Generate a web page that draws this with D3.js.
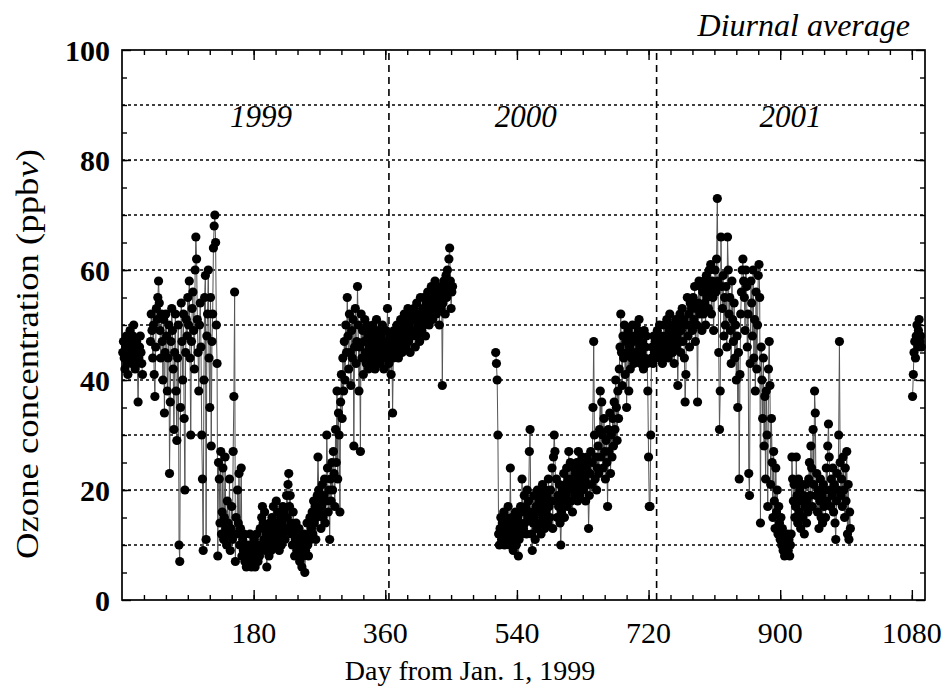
<!DOCTYPE html>
<html>
<head>
<meta charset="utf-8">
<script src="https://cdn.jsdelivr.net/npm/d3@7"></script>
<style>
  body { margin: 0; background: #fff; }
  text { font-family: "Liberation Serif", "Times New Roman", serif; fill: #000; }
</style>
</head>
<body>
<div id="chart"></div>
<script>
// daily ozone, each segment starts at its own day
let segStarts = [1, 39, 511, 1081];

let ozone_seg1 = [45,47,44,42,46,48,43,41,45,47,49,44,43,46,48,50,45,42,44,47,43,36,44,46,48,45,43,41];

let ozone_seg2 = [
  47,52,49,44,50,41,37,46,53,51,
  55,58,54,49,44,52,47,40,51,34,
  45,52,48,38,44,50,23,36,47,53,
  49,42,31,45,52,38,29,44,50,10,
  7,35,54,47,40,52,33,20,45,51,
  48,55,50,58,44,30,47,53,56,49,
  42,60,66,62,51,45,38,50,54,46,
  30,22,9,40,55,59,11,48,52,60,
  44,35,55,28,47,52,64,68,70,65,
  50,43,8,25,22,14,27,12,16,24,
  11,15,26,13,10,18,14,12,22,9,
  13,17,11,27,37,56,7,15,12,20,
  14,23,10,13,24,8,11,9,12,7,
  9,6,8,10,7,9,12,8,6,10,
  7,9,11,6,8,12,10,7,9,8,
  13,10,15,17,14,11,16,9,12,6,
  10,13,8,14,11,9,15,12,17,13,
  10,14,18,12,16,11,9,13,15,10,
  14,17,12,16,11,13,19,15,21,23,
  17,19,14,12,10,16,13,8,11,14,
  9,12,10,13,7,11,9,6,10,8,
  12,5,9,11,14,10,8,12,15,11,
  13,16,12,18,14,17,11,15,19,26,
  20,16,18,13,17,21,15,19,22,14,
  18,30,24,16,20,11,22,18,25,20,
  27,23,17,31,25,38,22,34,30,16,
  36,41,33,44,38,47,40,50,45,55,
  48,42,52,45,39,49,44,51,28,46,
  53,43,47,57,50,38,46,27,52,44,
  49,41,47,51,45,43,50,48,42,46,
  44,49,47,43,50,45,48,42,46,51,
  47,44,49,46,43,48,45,50,47,42,
  46,44,49,47,53,45,43,48,46,41,
  47,34,44,49,46,48,45,50,47,44,
  49,46,51,48,45,50,47,52,49,46,
  51,48,53,47,50,45,49,52,48,51,
  53,49,46,51,54,48,50,52,47,55,
  51,49,53,50,55,52,48,54,51,56,
  53,50,55,52,57,54,51,56,53,58,
  55,52,57,54,56,50,55,53,57,39,
  54,58,56,52,59,55,60,57,62,64,
  58,53,56,57];

let ozone_seg3 = [
  45,43,40,30,12,10,13,15,11,14,
  12,16,10,13,15,11,14,17,12,10,
  24,13,15,11,9,14,12,16,10,13,
  15,8,11,14,17,12,22,16,13,19,
  14,17,12,20,15,18,27,31,16,12,
  9,14,19,15,11,17,13,20,16,18,
  14,19,12,17,21,15,18,13,20,16,
  19,14,22,17,15,20,18,24,13,26,
  30,27,18,22,15,19,17,21,14,10,
  16,20,18,23,15,21,19,24,17,22,
  27,20,25,18,22,16,21,24,19,23,
  20,25,18,27,22,19,24,21,26,23,
  20,25,22,18,24,26,21,13,19,23,
  27,21,25,35,47,30,22,26,20,24,
  28,23,31,38,26,36,30,24,33,27,
  22,29,25,17,31,27,34,23,30,26,
  33,28,36,31,40,35,29,38,33,42,
  46,52,45,39,48,44,50,41,47,35,
  45,49,38,46,42,48,44,50,47,43,
  48,45,50,44,47,49,51,46,43,48,
  45,47,42,49,44,46,48,43,38,26,
  17,17,30,44,46,43,48,45,47,44,
  46,49,45,47,50,44,48,46,43,47,
  50,45,48,46,51,47,44,49,52,46,
  48,50,45,47,43,49,51,46,48,39,
  50,47,52,45,49,53,47,51,44,36,
  41,50,55,48,52,46,54,50,53,49,
  55,51,57,47,53,50,36,54,58,52,
  57,53,49,56,52,58,54,50,59,55,
  57,53,60,56,61,52,58,55,49,57,
  60,56,62,73,58,45,31,38,66,57,
  53,59,48,55,50,57,46,66,60,52,
  55,49,43,58,51,47,54,44,50,40,
  48,35,45,22,41,52,56,60,62,58,
  55,49,60,57,46,52,23,19,43,58,
  54,48,60,44,51,38,56,42,50,59,
  61,55,14,46,40,33,44,28,37,22,
  38,30,17,42,47,39,21,33,25,15,
  27,18,13,24,16,20,12,17,14,11,
  15,10,13,9,12,8,11,9,10,12,
  9,11,8,10,12,26,22,18,21,15,
  17,26,19,14,22,16,20,13,18,21,
  15,19,12,17,21,14,18,16,22,25,
  19,28,24,17,31,21,38,34,19,23,
  16,20,13,18,22,15,19,14,21,17,
  20,15,24,18,28,32,26,20,17,22,
  19,24,16,21,14,11,18,23,20,30,
  47,25,19,22,17,26,20,15,24,18,
  27,12,21,11,16,13];

let ozone_seg4 = [37,41,45,47,44,48,50,46,49,51,47,48,46];

let xTickValues = [180, 360, 540, 720, 900, 1080];
let yTickValues = [0, 20, 40, 60, 80, 100];
let yearNames = ["1999", "2000", "2001"];
let yearMidDays = [190, 552, 914];
let yearBreaks = [365, 731];

let width = 944, height = 688;
let margin = {top: 50, right: 19, bottom: 88, left: 122};

let svg = d3.select("#chart")
            .append("svg")
            .attr("width", width)
            .attr("height", height)
            .style("background", "#fff");

let x = d3.scaleLinear()
          .domain([0, 1098])
          .range([margin.left, width - margin.right]);

let y = d3.scaleLinear()
          .domain([0, 100])
          .range([height - margin.bottom, margin.top]);

// turn the segments into {day, v} lists
let segments = [ozone_seg1, ozone_seg2, ozone_seg3, ozone_seg4].map(function(vals, k) {
  return vals.map(function(v, i) { return {day: segStarts[k] + i, v: v}; });
});

// dotted grid
svg.append("g")
   .selectAll("line")
   .data(d3.range(10, 100, 10))
   .enter().append("line")
   .attr("x1", x(0))
   .attr("x2", x(1098))
   .attr("y1", function(d) { return y(d); })
   .attr("y2", function(d) { return y(d); })
   .attr("stroke", "#000")
   .attr("stroke-width", 1.5)
   .attr("stroke-dasharray", "3,3");

// year boundaries
svg.append("g")
   .selectAll("line")
   .data(yearBreaks)
   .enter().append("line")
   .attr("x1", function(d) { return x(d); })
   .attr("x2", function(d) { return x(d); })
   .attr("y1", y(0))
   .attr("y2", y(100))
   .attr("stroke", "#000")
   .attr("stroke-width", 1.6)
   .attr("stroke-dasharray", "7,5");

// connecting lines
let line = d3.line()
             .x(function(d) { return x(d.day); })
             .y(function(d) { return y(d.v); });

svg.append("g")
   .selectAll("path")
   .data(segments)
   .enter().append("path")
   .attr("d", line)
   .attr("fill", "none")
   .attr("stroke", "#555")
   .attr("stroke-width", 1);

// points
svg.append("g")
   .selectAll("g")
   .data(segments)
   .enter().append("g")
   .selectAll("circle")
   .data(function(d) { return d; })
   .enter().append("circle")
   .attr("cx", function(d) { return x(d.day); })
   .attr("cy", function(d) { return y(d.v); })
   .attr("r", 4.6)
   .attr("fill", "#000");

// axes, ticks pointing inward
function tickAxis(axis, pos, values, size) {
  return svg.append("g")
            .attr("transform", pos)
            .call(axis.tickValues(values).tickSizeInner(size).tickSizeOuter(0).tickFormat(""))
            .call(function(g) { g.select(".domain").remove(); })
            .call(function(g) { g.selectAll("line").attr("stroke-width", 1.4); });
}

let minorDays = d3.range(30, 1096, 30);
let majorDays = d3.range(180, 1096, 180);
let minorVals = d3.range(5, 100, 5);

tickAxis(d3.axisBottom(x), "translate(0," + y(0) + ")", minorDays, -5);
tickAxis(d3.axisBottom(x), "translate(0," + y(0) + ")", majorDays, -10);
tickAxis(d3.axisTop(x), "translate(0," + y(100) + ")", minorDays, -5);
tickAxis(d3.axisTop(x), "translate(0," + y(100) + ")", majorDays, -10);
tickAxis(d3.axisLeft(y), "translate(" + x(0) + ",0)", minorVals, -5);
tickAxis(d3.axisLeft(y), "translate(" + x(0) + ",0)", yTickValues, -9);
tickAxis(d3.axisRight(y), "translate(" + x(1098) + ",0)", minorVals, -5);
tickAxis(d3.axisRight(y), "translate(" + x(1098) + ",0)", yTickValues, -9);

// frame
svg.append("rect")
   .attr("x", x(0))
   .attr("y", y(100))
   .attr("width", x(1098) - x(0))
   .attr("height", y(0) - y(100))
   .attr("fill", "none")
   .attr("stroke", "#000")
   .attr("stroke-width", 1.7);

// tick labels
svg.append("g")
   .selectAll("text")
   .data(xTickValues)
   .enter().append("text")
   .attr("x", function(d) { return x(d); })
   .attr("y", y(0) + 43)
   .attr("text-anchor", "middle")
   .style("font-size", "30px")
   .text(function(d) { return d; });

svg.append("g")
   .selectAll("text")
   .data(yTickValues)
   .enter().append("text")
   .attr("x", x(0) - 12)
   .attr("y", function(d) { return y(d); })
   .attr("dy", "0.36em")
   .attr("text-anchor", "end")
   .style("font-size", "30px")
   .style("font-weight", "bold")
   .text(function(d) { return d; });

// year labels
svg.append("g")
   .selectAll("text")
   .data(yearNames)
   .enter().append("text")
   .attr("x", function(d, i) { return x(yearMidDays[i]); })
   .attr("y", y(86))
   .attr("text-anchor", "middle")
   .style("font-size", "31px")
   .style("font-style", "italic")
   .text(function(d) { return d; });

svg.append("text")
   .attr("x", 910)
   .attr("y", 36)
   .attr("text-anchor", "end")
   .style("font-size", "32px")
   .style("font-style", "italic")
   .text("Diurnal average");

svg.append("text")
   .attr("x", 470)
   .attr("y", 680)
   .attr("text-anchor", "middle")
   .style("font-size", "28px")
   .text("Day from Jan. 1, 1999");

let ylab = svg.append("text")
              .attr("transform", "translate(38," + 354 + ") rotate(-90)")
              .attr("text-anchor", "middle")
              .style("font-size", "31px")
              .attr("textLength", 410)
              .attr("lengthAdjust", "spacingAndGlyphs");
ylab.append("tspan").text("Ozone concentration (ppb");
ylab.append("tspan").style("font-style", "italic").text("v");
ylab.append("tspan").text(")");
</script>
</body>
</html>
